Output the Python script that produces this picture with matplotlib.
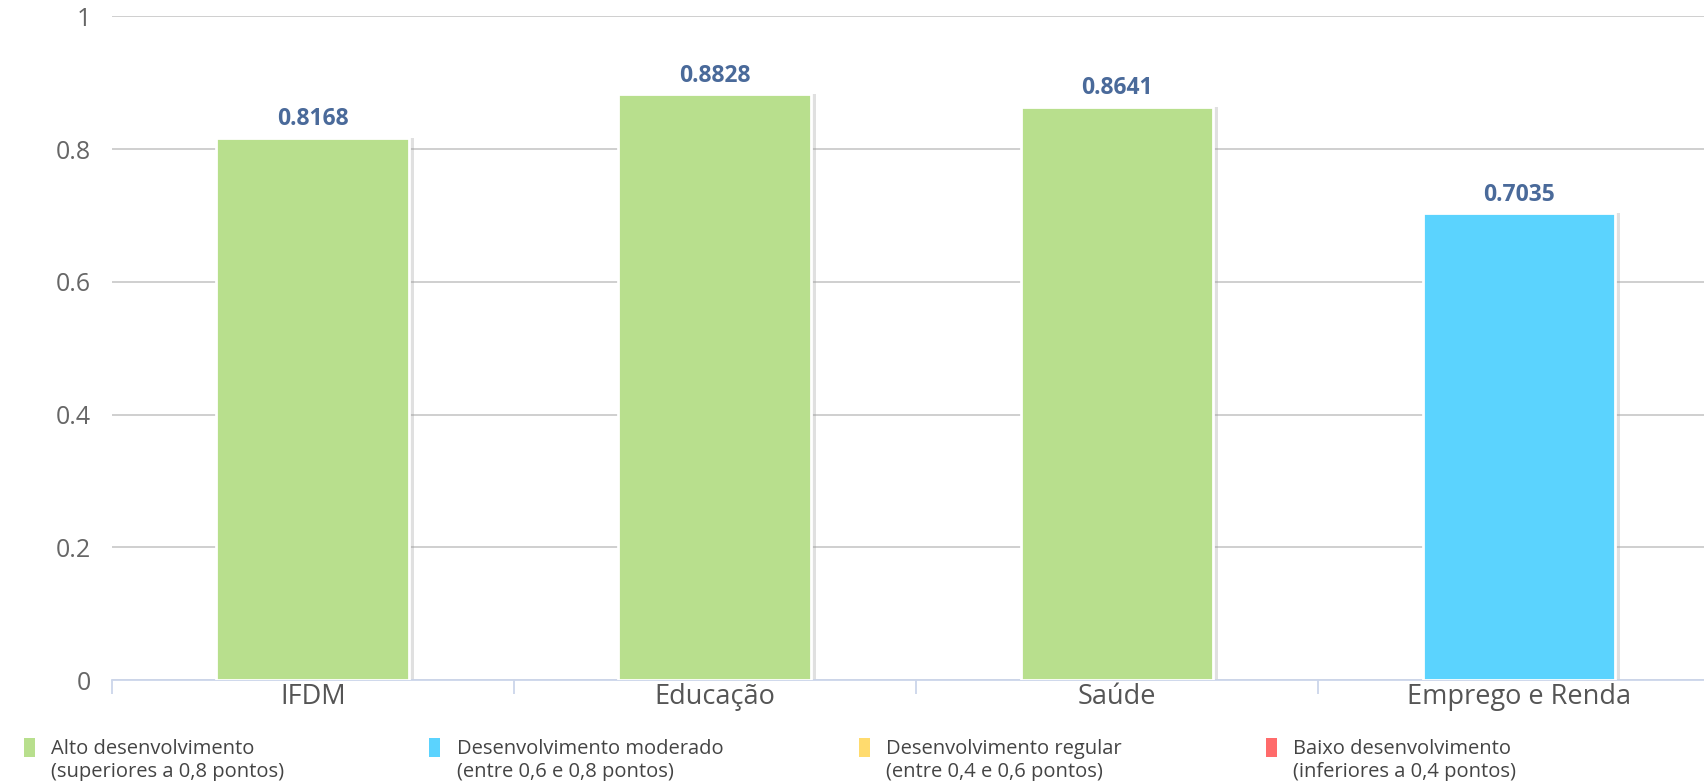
import matplotlib.pyplot as plt
from matplotlib.patches import Rectangle

# dados do gráfico
categorias = ["IFDM", "Educação", "Saúde", "Emprego e Renda"]
valores = [0.8168, 0.8828, 0.8641, 0.7035]
cores_barras = ["#b8df8d", "#b8df8d", "#b8df8d", "#5bd3fe"]

legenda_titulos = ["Alto desenvolvimento", "Desenvolvimento moderado",
                   "Desenvolvimento regular", "Baixo desenvolvimento"]
legenda_faixas = ["(superiores a 0,8 pontos)", "(entre 0,6 e 0,8 pontos)",
                  "(entre 0,4 e 0,6 pontos)", "(inferiores a 0,4 pontos)"]
legenda_cores = ["#b8df8d", "#5bd3fe", "#ffdb6e", "#ff6b6b"]

yticks = [0, 0.2, 0.4, 0.6, 0.8, 1]

plt.rcParams['font.family'] = ['Open Sans', 'DejaVu Sans']

fig = plt.figure(figsize=(17.04, 7.81), dpi=100)
ax = fig.add_axes([0.0657, 0.1293, 0.9437, 0.8497])

x = list(range(len(categorias)))
largura = 0.48

# sombra à direita das barras
ax.bar([i + 0.012 for i in x], valores, width=largura, color="#999999",
       alpha=0.3, zorder=2, linewidth=0)
ax.bar(x, valores, width=largura, color=cores_barras, edgecolor="white",
       linewidth=2, zorder=3)

for i, v in zip(x, valores):
    ax.text(i, v + 0.01, f"{v:.4f}", ha="center", va="bottom",
            fontsize=16.5, fontweight="bold", color="#4a6a9a", zorder=4)

ax.set_xlim(-0.5, 3.5)
ax.set_ylim(0, 1)
ax.set_yticks(yticks)
ax.set_yticklabels(["0", "0.2", "0.4", "0.6", "0.8", "1"])
ax.yaxis.grid(True, color="#cccccc", linewidth=1.3, zorder=0)
ax.set_axisbelow(True)

for s in ["top", "right", "left"]:
    ax.spines[s].set_visible(False)
ax.spines["bottom"].set_color("#ccd6eb")
ax.spines["bottom"].set_linewidth(1.3)

ax.set_xticks([-0.5, 0.5, 1.5, 2.5])
ax.set_xticklabels([])
ax.set_xticks(x, minor=True)
ax.set_xticklabels(categorias, minor=True, fontsize=19.5, color="#555555")
ax.tick_params(axis="x", which="major", length=10, color="#ccd6eb", width=1.3)
ax.tick_params(axis="x", which="minor", length=0, pad=2)
ax.tick_params(axis="y", length=0, labelsize=18, labelcolor="#666666", pad=15)

# legenda manual
xs_quad = [0.014, 0.252, 0.504, 0.743]
for xq, titulo, faixa, cor in zip(xs_quad, legenda_titulos, legenda_faixas, legenda_cores):
    fig.patches.append(Rectangle((xq, 0.031), 0.0065, 0.024, transform=fig.transFigure,
                                 facecolor=cor, edgecolor="none"))
    fig.text(xq + 0.016, 0.041, titulo, fontsize=14.5, color="#444444", va="center")
    fig.text(xq + 0.016, 0.012, faixa, fontsize=14.5, color="#444444", va="center")

fig.savefig("out.png", dpi=100)
